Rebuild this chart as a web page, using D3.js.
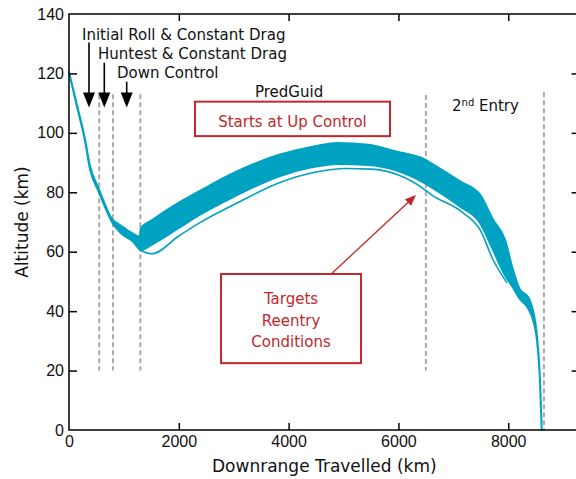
<!DOCTYPE html>
<html lang="en">
<head>
  <meta charset="UTF-8" />
  <title>Altitude vs Downrange</title>
  <script src="https://cdn.jsdelivr.net/npm/d3@7"></script>
  <style>
    html, body { margin: 0; padding: 0; background: #fff; overflow: hidden; }
    svg { display: block; }
    text { font-family: "DejaVu Sans", sans-serif; }
  </style>
</head>
<body>
  <script>
    // Trajectory envelope (km, km)
    const downrange = [0, 150, 290, 380, 546, 783, 930, 1170, 1290, 1310, 1500, 2000, 2386, 3000, 3843, 4400, 4900, 5450, 5940, 6485, 6576, 7122, 7486, 7723, 7942, 8087, 8215, 8361, 8434, 8525, 8579, 8610];
    const altHigh   = [120.5, 109, 98, 89, 81, 71, 69, 66, 65, 68, 70.5, 76.5, 80.5, 86.5, 92.7, 95.2, 96.6, 96, 93.8, 91, 90, 83.7, 79.2, 70.8, 64, 53.9, 47.2, 44.8, 41.4, 31.3, 16.8, 0];
    const altLow    = [120.5, 108.5, 97.5, 88, 80, 70, 66.5, 63.3, 60.7, 60.5, 62.3, 68, 72.5, 78.5, 85.5, 88.3, 89.5, 89.2, 87.5, 83, 82, 75.2, 69.7, 60.6, 52, 48, 44, 41, 38, 30, 16, 0];

    // Outlier trajectory below the band
    const outlierRange = [1290, 1510, 2000, 2386, 3000, 3843, 4500, 5030, 5500, 6000, 6485, 6576, 7177, 7486, 7723, 7978];
    const outlierAlt   = [60.5, 59.3, 65.3, 69.8, 75.8, 83.3, 86.8, 88, 87.8, 85.8, 80.8, 79.5, 73.1, 67.4, 57.3, 49.5];

    // Phase boundaries (km) and their vertical extent (km altitude)
    const phaseX   = [550, 800, 1300, 6500, 8650];
    const phaseTop = [113, 113, 113, 112.7, 113.7];
    const phaseBot = [20, 20, 20, 20, 0];

    const xTicks = [0, 2000, 4000, 6000, 8000];
    const yTicks = [0, 20, 40, 60, 80, 100, 120, 140];

    const width = 576, height = 479;
    const cyan = "#00a2c2", red = "#c1272d";

    const svg = d3.select("body").append("svg")
      .attr("width", width).attr("height", height);

    const x = d3.scaleLinear().domain([0, 9300]).range([69, 579.6]);
    const y = d3.scaleLinear().domain([0, 140]).range([430, 14]);

    // dashed phase lines
    svg.append("g").selectAll("line").data(phaseX).join("line")
      .attr("x1", d => x(d)).attr("x2", d => x(d))
      .attr("y1", (d, i) => y(phaseTop[i])).attr("y2", (d, i) => y(phaseBot[i]))
      .attr("stroke", "#aaaaaa").attr("stroke-width", 2)
      .attr("stroke-dasharray", "5,3");

    // band of trajectories
    const band = downrange.map((d, i) => ({ r: d, hi: altHigh[i], lo: altLow[i] }));
    svg.append("path").datum(band)
      .attr("d", d3.area().curve(d3.curveMonotoneX)
        .x(d => x(d.r)).y0(d => y(d.lo)).y1(d => y(d.hi)))
      .attr("fill", cyan).attr("stroke", cyan).attr("stroke-width", 2)
      .attr("stroke-linejoin", "round");

    svg.append("path").datum(outlierRange.map((d, i) => [d, outlierAlt[i]]))
      .attr("d", d3.line().curve(d3.curveMonotoneX).x(d => x(d[0])).y(d => y(d[1])))
      .attr("fill", "none").attr("stroke", cyan).attr("stroke-width", 1.6);

    // frame + axes (ticks pointing inward)
    svg.append("rect")
      .attr("x", x(0)).attr("y", y(140))
      .attr("width", x(9300) - x(0)).attr("height", y(0) - y(140))
      .attr("fill", "none").attr("stroke", "#000").attr("stroke-width", 1.5);

    const gx = svg.append("g").attr("transform", `translate(0,${y(0)})`)
      .call(d3.axisBottom(x).tickValues(xTicks).tickFormat(d3.format("d"))
        .tickSizeInner(-7).tickSizeOuter(0).tickPadding(6));
    svg.append("g").attr("transform", `translate(0,${y(140)})`)
      .call(d3.axisTop(x).tickValues(xTicks.slice(1)).tickSizeInner(-7).tickSizeOuter(0).tickFormat(""));
    const gy = svg.append("g").attr("transform", `translate(${x(0)},0)`)
      .call(d3.axisLeft(y).tickValues(yTicks).tickSizeInner(-8).tickSizeOuter(0).tickPadding(5));
    svg.append("g").attr("transform", `translate(${x(9300)},0)`)
      .call(d3.axisRight(y).tickValues(yTicks.slice(1, -1)).tickSizeInner(-8).tickSizeOuter(0).tickFormat(""));

    svg.selectAll(".domain").remove();
    svg.selectAll(".tick line").attr("stroke", "#000").attr("stroke-width", 1.5);
    svg.selectAll(".tick text")
      .attr("fill", "#111")
      .style("font-family", "'Liberation Sans', sans-serif")
      .style("font-size", "16px");
    gx.selectAll(".tick line").filter(d => d === 0).remove();
    gy.selectAll(".tick line").filter(d => d === 0 || d === 140).remove();

    // axis titles
    svg.append("text")
      .attr("x", (x(0) + x(9300)) / 2).attr("y", 472)
      .attr("text-anchor", "middle").attr("font-size", 17).attr("fill", "#111")
      .text("Downrange Travelled (km)");
    svg.append("text")
      .attr("transform", `translate(28,${(y(0) + y(140)) / 2}) rotate(-90)`)
      .attr("text-anchor", "middle").attr("font-size", 17).attr("fill", "#111")
      .text("Altitude (km)");

    // phase annotations with black arrows
    const phaseNotes = [
      { text: "Initial Roll & Constant Drag", r: 237, a: 131.3, ar: 364, a0: 130.4 },
      { text: "Huntest & Constant Drag", r: 528, a: 124.9, ar: 643, a0: 123.6 },
      { text: "Down Control", r: 874, a: 118.5, ar: 1051, a0: 117.2 }
    ];
    const tipAlt = 108.5;
    phaseNotes.forEach(n => {
      svg.append("text")
        .attr("x", x(n.r)).attr("y", y(n.a))
        .attr("font-size", 15).attr("fill", "#111")
        .text(n.text);
      const tx = x(n.ar), ty = y(tipAlt);
      svg.append("line")
        .attr("x1", tx).attr("x2", tx)
        .attr("y1", y(n.a0)).attr("y2", ty - 10)
        .attr("stroke", "#000").attr("stroke-width", 1.6);
      svg.append("path")
        .attr("d", `M${tx - 6},${ty - 15}L${tx + 6},${ty - 15}L${tx},${ty}Z`)
        .attr("fill", "#000");
    });

    svg.append("text")
      .attr("x", x(3388)).attr("y", y(112.1))
      .attr("font-size", 15).attr("fill", "#111")
      .text("PredGuid");

    const entry = svg.append("text")
      .attr("x", x(6976)).attr("y", y(107.4))
      .attr("font-size", 15).attr("fill", "#111");
    entry.append("tspan").text("2");
    entry.append("tspan").attr("dy", -5).attr("font-size", 10).text("nd");
    entry.append("tspan").attr("dy", 5).text(" Entry");

    // red boxes
    svg.append("rect")
      .attr("x", x(2295)).attr("y", y(110.5))
      .attr("width", x(5847) - x(2295)).attr("height", y(98.9) - y(110.5))
      .attr("fill", "#fff").attr("stroke", red).attr("stroke-width", 2);
    svg.append("text")
      .attr("x", x(4071)).attr("y", y(102))
      .attr("text-anchor", "middle").attr("font-size", 15).attr("fill", red)
      .text("Starts at Up Control");

    // red arrow to the outlier
    const a0 = [x(4718), y(51.5)], a1 = [x(6321), y(79.1)];
    const ang = Math.atan2(a1[1] - a0[1], a1[0] - a0[0]);
    const hl = 11, hw = 4.5;
    const bx = a1[0] - hl * Math.cos(ang), by = a1[1] - hl * Math.sin(ang);
    svg.append("line")
      .attr("x1", a0[0]).attr("y1", a0[1]).attr("x2", bx).attr("y2", by)
      .attr("stroke", red).attr("stroke-width", 1.3);
    svg.append("path")
      .attr("d", `M${a1[0]},${a1[1]}L${bx - hw * Math.sin(ang)},${by + hw * Math.cos(ang)}L${bx + hw * Math.sin(ang)},${by - hw * Math.cos(ang)}Z`)
      .attr("fill", red);

    svg.append("rect")
      .attr("x", x(2769)).attr("y", y(52.5))
      .attr("width", x(5319) - x(2769)).attr("height", y(22.5) - y(52.5))
      .attr("fill", "#fff").attr("stroke", red).attr("stroke-width", 2);
    const targetLines = ["Targets", "Reentry", "Conditions"];
    const targetAlt = [42.4, 35, 27.9];
    svg.append("g").selectAll("text").data(targetLines).join("text")
      .attr("x", x(4044)).attr("y", (d, i) => y(targetAlt[i]))
      .attr("text-anchor", "middle").attr("font-size", 15).attr("fill", red)
      .text(d => d);
  </script>
</body>
</html>
